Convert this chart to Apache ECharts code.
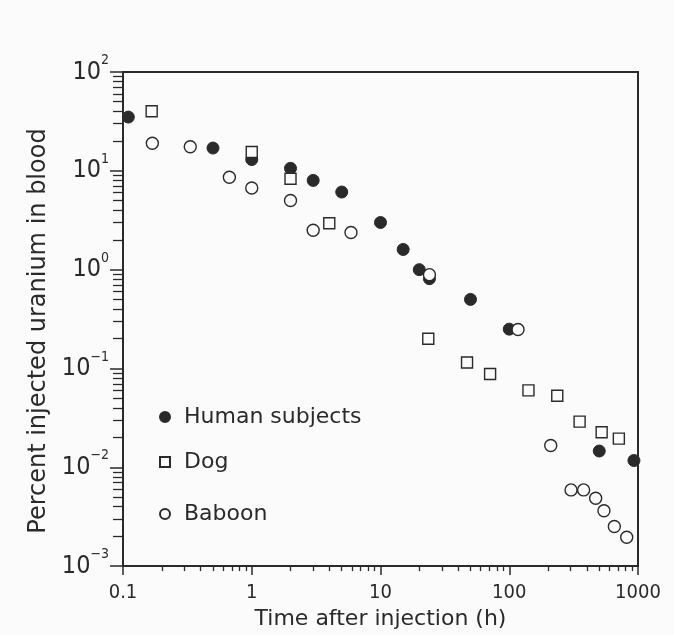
<!DOCTYPE html>
<html>
<head>
<meta charset="utf-8">
<script src="https://cdn.jsdelivr.net/npm/echarts@6/dist/echarts.min.js"></script>
<style>
html,body{margin:0;padding:0;background:#fbfbfb;}
#chart{width:674px;height:635px;}
</style>
</head>
<body>
<div id="chart"></div>
<script>
// ---- data ----
const humanX = [0.11, 0.5, 1.0, 2.0, 3.0, 5.0, 10, 15, 20, 24, 50, 100, 500, 930];
const humanY = [35, 17, 13, 10.6, 8.0, 6.1, 3.0, 1.6, 1.0, 0.81, 0.5, 0.25, 0.0146, 0.0117];
const dogX = [0.167, 1.0, 2.0, 4.0, 23.5, 47, 71, 141, 236, 352, 522, 710];
const dogY = [40, 15.5, 8.3, 2.95, 0.2, 0.115, 0.088, 0.06, 0.053, 0.029, 0.0226, 0.0195];
const baboonX = [0.169, 0.333, 0.67, 1.0, 2.0, 3.0, 5.9, 24, 117, 210, 302, 378, 469, 544, 655, 817];
const baboonY = [19, 17.5, 8.6, 6.7, 5.0, 2.5, 2.38, 0.89, 0.248, 0.0166, 0.0059, 0.0059, 0.00486, 0.00363, 0.00252, 0.00196];
const seriesNames = ['Human subjects', 'Dog', 'Baboon'];
const xTickLabels = ['0.1', '1', '10', '100', '1000'];
const xMajor = [0.1, 1, 10, 100, 1000];
const yMajor = [0.001, 0.01, 0.1, 1, 10, 100];

function minors(majors) {
  const out = [];
  for (let i = 0; i < majors.length - 1; i++) {
    for (let k = 2; k <= 9; k++) out.push(+(majors[i] * k).toPrecision(6));
  }
  return out;
}
const xMinor = minors(xMajor);
const yMinor = minors(yMajor);

const ink = '#2a2a2a';
const bg = '#fbfbfb';
const txtFont = 'DejaVu Sans';
const numFont = "'Liberation Sans Narrow', 'DejaVu Sans Condensed', sans-serif";

function pairs(xs, ys) { return xs.map((x, i) => [x, ys[i]]); }

const chart = echarts.init(document.getElementById('chart'), null, {renderer: 'canvas'});
const axisLineStyle = {show: true, lineStyle: {color: ink, width: 2}};

chart.setOption({
  backgroundColor: bg,
  animation: false,
  grid: {left: 123, top: 72, right: 36, bottom: 66, show: true, borderColor: ink, borderWidth: 2, backgroundColor: 'transparent'},
  xAxis: [
    {
      type: 'log', logBase: 10, min: 0.1, max: 1000, position: 'bottom',
      axisLine: axisLineStyle,
      axisTick: {show: true, inside: false, length: 9, lineStyle: {color: ink, width: 1.5}, customValues: xMajor},
      axisLabel: {
        show: true, margin: 17, color: ink, fontFamily: numFont, fontSize: 20,
        customValues: xMajor,
        formatter: v => xTickLabels[xMajor.findIndex(m => Math.abs(Math.log10(m) - Math.log10(v)) < 1e-6)]
      },
      splitLine: {show: false},
      name: 'Time after injection (h)', nameLocation: 'middle', nameGap: 15,
      nameTextStyle: {fontFamily: txtFont, fontSize: 22, color: ink}
    },
    {
      type: 'log', logBase: 10, min: 0.1, max: 1000, position: 'bottom', gridIndex: 0,
      axisLine: {show: false},
      axisTick: {show: true, inside: false, length: 5, lineStyle: {color: ink, width: 1.3}, customValues: xMinor},
      axisLabel: {show: false},
      splitLine: {show: false}
    }
  ],
  yAxis: [
    {
      type: 'log', logBase: 10, min: 0.001, max: 100, position: 'left',
      axisLine: axisLineStyle,
      axisTick: {show: true, inside: false, length: 13, lineStyle: {color: ink, width: 1.5}, customValues: yMajor},
      axisLabel: {
        show: true, margin: 14, color: ink,
        customValues: yMajor,
        padding: [0, 0, 6, 0],
        formatter: v => {
          const e = Math.round(Math.log10(v));
          return '{b|10}{s|' + (e < 0 ? '\u2212' + (-e) : e) + '}';
        },
        rich: {
          b: {fontFamily: numFont, fontSize: 25, color: ink, padding: [6, 0, 0, 0]},
          s: {fontFamily: numFont, fontSize: 14, color: ink, verticalAlign: 'top'}
        }
      },
      splitLine: {show: false},
      name: 'Percent injected uranium in blood', nameLocation: 'middle', nameGap: 60,
      nameTextStyle: {fontFamily: txtFont, fontSize: 24, color: ink, padding: [0, 24, 0, 0]}
    },
    {
      type: 'log', logBase: 10, min: 0.001, max: 100, position: 'left', gridIndex: 0,
      axisLine: {show: false},
      axisTick: {show: true, inside: false, length: 10, lineStyle: {color: ink, width: 1.3}, customValues: yMinor},
      axisLabel: {show: false},
      splitLine: {show: false}
    }
  ],
  legend: seriesNames.map((n, i) => ({
    data: [{name: n, icon: i === 1 ? 'rect' : 'circle'}],
    left: 154, top: [401, 446, 498][i],
    orient: 'vertical', itemWidth: 10, itemHeight: 10,
    textStyle: {fontFamily: txtFont, fontSize: 22, color: ink, padding: [0, 0, 0, 9]},
    selectedMode: false
  })),
  series: [
    {
      name: seriesNames[0], type: 'scatter', xAxisIndex: 0, yAxisIndex: 0,
      data: pairs(humanX, humanY), symbol: 'circle', symbolSize: 12, z: 3,
      itemStyle: {color: ink, borderColor: ink, borderWidth: 1, opacity: 1}
    },
    {
      name: seriesNames[1], type: 'scatter', xAxisIndex: 0, yAxisIndex: 0,
      data: pairs(dogX, dogY), symbol: 'rect', symbolSize: 11, z: 4,
      itemStyle: {color: bg, borderColor: ink, borderWidth: 1.4, opacity: 1}
    },
    {
      name: seriesNames[2], type: 'scatter', xAxisIndex: 0, yAxisIndex: 0,
      data: pairs(baboonX, baboonY), symbol: 'circle', symbolSize: 12, z: 4,
      itemStyle: {color: bg, borderColor: ink, borderWidth: 1.4, opacity: 1}
    }
  ]
});
</script>
</body>
</html>
